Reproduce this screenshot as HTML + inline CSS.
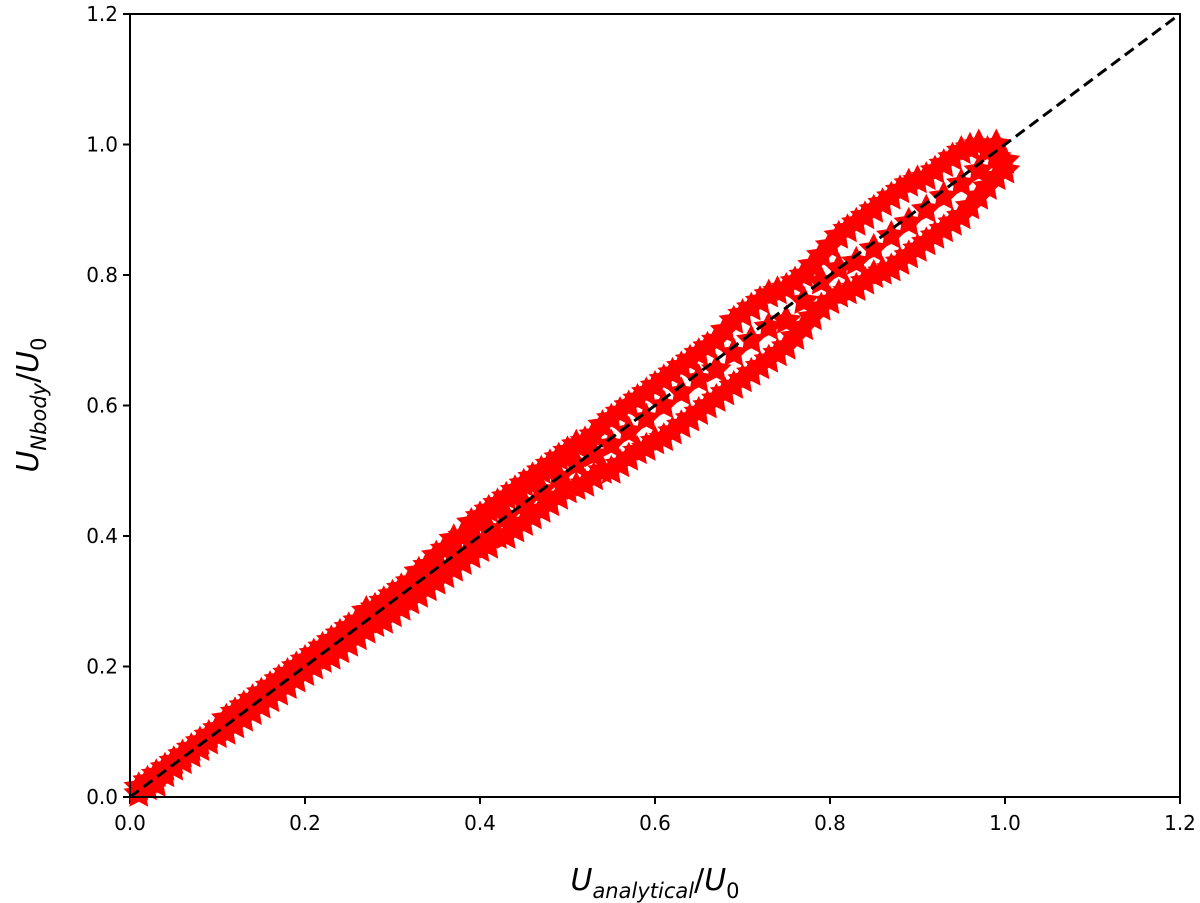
<!DOCTYPE html>
<html><head><meta charset="utf-8"><style>
body{margin:0;background:#fff;}
svg{display:block;font-family:"DejaVu Sans","Liberation Sans",sans-serif;}
</style></head><body>
<svg id="chart" width="1200" height="903" viewBox="0 0 1200 903" xmlns="http://www.w3.org/2000/svg">
<g id="ticks"></g>
<g id="marks"></g>
<g id="diag"></g>
<rect x="130" y="14" width="1050" height="783" fill="none" stroke="#000" stroke-width="2"/>
<text x="655" y="890" font-size="30" text-anchor="middle"><tspan font-style="italic">U</tspan><tspan font-style="italic" font-size="21" dy="8">analytical</tspan><tspan dy="-8">/</tspan><tspan font-style="italic">U</tspan><tspan font-size="21" dy="8">0</tspan></text>
<text transform="translate(38,405) rotate(-90)" font-size="30" text-anchor="middle"><tspan font-style="italic">U</tspan><tspan font-style="italic" font-size="21" dy="8">Nbody</tspan><tspan dy="-8">/</tspan><tspan font-style="italic">U</tspan><tspan font-size="21" dy="8">0</tspan></text>
</svg>
<script>
const xTicks=[0.0,0.2,0.4,0.6,0.8,1.0,1.2];
const yTicks=[0.0,0.2,0.4,0.6,0.8,1.0,1.2];
const tickLabels=["0.0","0.2","0.4","0.6","0.8","1.0","1.2"];
const ptX=[0.01,0.01,0.03,0.03,0.05,0.05,0.07,0.07,0.09,0.09,0.11,0.11,0.13,0.13,0.15,0.15,0.17,0.17,0.19,0.19,0.21,0.21,0.23,0.23,0.25,0.25,0.27,0.27,0.29,0.29,
0.31,0.31,0.31,0.33,0.33,0.33,0.35,0.35,0.35,0.37,0.37,0.37,0.39,0.39,0.39,0.41,0.41,0.41,0.43,0.43,0.43,0.45,0.45,0.45,0.47,0.47,0.47,0.49,0.49,0.49,
0.51,0.51,0.51,0.53,0.53,0.53,0.55,0.55,0.55,0.57,0.57,0.57,0.59,0.59,0.59,0.61,0.61,0.61,0.63,0.63,0.63,0.65,0.65,0.65,0.67,0.67,0.67,0.69,0.69,0.69,
0.71,0.71,0.71,0.73,0.73,0.73,0.75,0.75,0.75,0.77,0.77,0.77,0.79,0.79,0.79,0.81,0.81,0.81,0.83,0.83,0.83,0.85,0.85,0.85,0.87,0.87,0.87,0.89,0.89,0.89,
0.91,0.91,0.91,0.93,0.93,0.93,0.95,0.95,0.95,0.97,0.97,0.97,0.99,0.99,0.99,
0.02,0.02,0.04,0.04,0.06,0.06,0.08,0.08,0.10,0.10,0.12,0.12,0.14,0.14,0.16,0.16,0.18,0.18,0.20,0.20,0.22,0.22,0.24,0.24,0.26,0.26,0.28,0.28,0.30,0.30,
0.32,0.32,0.34,0.34,0.36,0.36,0.38,0.38,0.40,0.40,0.42,0.42,0.44,0.44,0.46,0.46,0.48,0.48,0.50,0.50,0.52,0.52,0.54,0.54,0.56,0.56,0.58,0.58,0.60,0.60,
0.62,0.62,0.64,0.64,0.66,0.66,0.68,0.68,0.70,0.70,0.72,0.72,0.74,0.74,0.76,0.76,0.78,0.78,0.80,0.80,0.82,0.82,0.84,0.84,0.86,0.86,0.88,0.88,0.90,0.90,
0.92,0.92,0.94,0.94,0.96,0.96,0.98,0.98,1.00,1.00];
const ptY=[0.005,0.015,0.02,0.035,0.045,0.055,0.065,0.075,0.085,0.095,0.10,0.12,0.12,0.14,0.14,0.16,0.16,0.18,0.18,0.20,0.20,0.22,0.215,0.24,0.235,0.26,0.255,0.285,0.27,0.30,
0.29,0.32,0.305,0.31,0.345,0.33,0.33,0.37,0.35,0.35,0.395,0.37,0.37,0.42,0.395,0.385,0.44,0.41,0.40,0.46,0.43,0.42,0.48,0.45,0.44,0.50,0.47,0.46,0.52,0.49,
0.475,0.54,0.51,0.49,0.555,0.525,0.50,0.58,0.54,0.52,0.60,0.56,0.535,0.62,0.58,0.55,0.64,0.60,0.57,0.66,0.62,0.59,0.68,0.64,0.61,0.70,0.655,0.63,0.73,0.68,
0.65,0.75,0.70,0.67,0.77,0.72,0.69,0.78,0.73,0.72,0.80,0.76,0.75,0.83,0.79,0.77,0.86,0.81,0.78,0.88,0.82,0.80,0.90,0.84,0.81,0.92,0.86,0.83,0.94,0.88,
0.85,0.95,0.90,0.87,0.97,0.92,0.89,0.99,0.94,0.92,1.00,0.96,0.95,0.98,1.0,
0.015,0.025,0.035,0.045,0.055,0.065,0.075,0.085,0.095,0.105,0.11,0.13,0.13,0.15,0.15,0.17,0.17,0.19,0.19,0.21,0.21,0.23,0.225,0.25,0.245,0.27,0.265,0.29,0.28,0.31,
0.30,0.33,0.32,0.355,0.34,0.38,0.36,0.40,0.38,0.43,0.40,0.45,0.41,0.47,0.43,0.49,0.45,0.51,0.47,0.53,0.48,0.545,0.50,0.57,0.51,0.59,0.53,0.61,0.545,0.63,
0.56,0.65,0.58,0.67,0.60,0.69,0.62,0.715,0.64,0.74,0.66,0.76,0.68,0.775,0.705,0.79,0.735,0.815,0.76,0.845,0.775,0.87,0.79,0.89,0.805,0.91,0.82,0.93,0.84,0.945,
0.86,0.96,0.88,0.98,0.905,0.995,0.935,0.99,0.96,0.975];
const NS="http://www.w3.org/2000/svg";
const X0=130,X1=1180,Y0=797,Y1=14;
const sx=v=>X0+(v/1.2)*(X1-X0);
const sy=v=>Y0-(v/1.2)*(Y0-Y1);
const ticks=document.getElementById('ticks');
xTicks.forEach((t,i)=>{
  const l=document.createElementNS(NS,'line');
  l.setAttribute('x1',sx(t));l.setAttribute('x2',sx(t));l.setAttribute('y1',Y0);l.setAttribute('y2',Y0+7);
  l.setAttribute('stroke','#000');l.setAttribute('stroke-width','2');
  
  
  ticks.appendChild(l);
  const tx=document.createElementNS(NS,'text');
  tx.setAttribute('x',sx(t));tx.setAttribute('y',Y0+33);tx.setAttribute('font-size','20');tx.setAttribute('text-anchor','middle');
  tx.textContent=tickLabels[i];
  
  
  ticks.appendChild(tx);
});
yTicks.forEach((t,i)=>{
  const l=document.createElementNS(NS,'line');
  l.setAttribute('x1',X0-7);l.setAttribute('x2',X0);l.setAttribute('y1',sy(t));l.setAttribute('y2',sy(t));
  l.setAttribute('stroke','#000');l.setAttribute('stroke-width','2');
  
  
  ticks.appendChild(l);
  const tx=document.createElementNS(NS,'text');
  tx.setAttribute('x',X0-12);tx.setAttribute('y',sy(t)+7);tx.setAttribute('font-size','20');tx.setAttribute('text-anchor','end');
  tx.textContent=tickLabels[i];
  
  
  ticks.appendChild(tx);
});
function star(cx,cy,R){
  const r=R*0.5;let p=[];
  for(let k=0;k<10;k++){const a=-Math.PI/2+k*Math.PI/5;const rr=k%2?r:R;p.push((cx+rr*Math.cos(a)).toFixed(1)+','+(cy+rr*Math.sin(a)).toFixed(1));}
  return p.join(' ');
}
const marks=document.getElementById('marks');
ptX.forEach((x,i)=>{
  const s=document.createElementNS(NS,'polygon');
  s.setAttribute('points',star(sx(x),sy(ptY[i]),16));
  s.setAttribute('fill','#ff0000');
  
  
  marks.appendChild(s);
});
const d=document.createElementNS(NS,'line');
d.setAttribute('x1',sx(0));d.setAttribute('y1',sy(0));d.setAttribute('x2',sx(1.2));d.setAttribute('y2',sy(1.2));
d.setAttribute('stroke','#000');d.setAttribute('stroke-width','3');d.setAttribute('stroke-dasharray','11,6');


document.getElementById('diag').appendChild(d);
</script>
</body></html>
